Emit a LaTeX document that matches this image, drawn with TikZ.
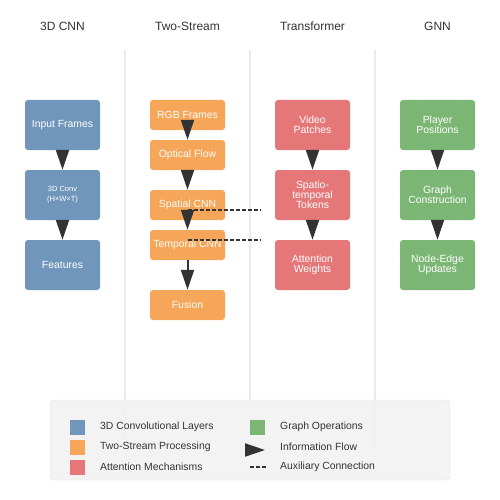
\documentclass[tikz,border=0pt]{standalone}
\usepackage{fontspec}
\setmainfont{Liberation Sans}
\usetikzlibrary{arrows.meta}

\definecolor{cnnblue}{HTML}{7096BB}
\definecolor{tsorange}{HTML}{F5A658}
\definecolor{trred}{HTML}{E67778}
\definecolor{gnngreen}{HTML}{7CB674}
\definecolor{darkgray}{HTML}{333333}
\definecolor{sepgray}{HTML}{EBEBEB}
\definecolor{legendfill}{HTML}{F2F2F2}
\definecolor{legendline}{HTML}{DDDDDD}

\tikzset{
    box/.style={rounded corners=3pt, minimum width=75pt, minimum height=50pt, inner sep=0pt,
        text=white, align=center, font=\fontsize{10.4}{10}\selectfont},
    flatbox/.style={box, minimum height=30pt},
    title/.style={text=darkgray, font=\fontsize{12}{12}\selectfont},
    legendtext/.style={anchor=west, inner sep=0pt, text=darkgray, font=\fontsize{10.4}{10}\selectfont},
    flow/.style={line width=2pt, draw=darkgray, -{Triangle[length=20pt, width=13pt]}},
    aux/.style={line width=1.5pt, draw=darkgray, dash pattern=on 4pt off 2pt},
}

\begin{document}
\begin{tikzpicture}[x=1pt, y=-1pt]
    \useasboundingbox (0,0) rectangle (500,500);

    % Column titles
    \node[title] (tCnn) at (62.5,26) {3D CNN};
    \node[title] (tTs) at (187.5,26) {Two-Stream};
    \node[title] (tTr) at (312.5,26) {Transformer};
    \node[title] (tGnn) at (437.5,26) {GNN};

    % Separators
    \draw[sepgray, line width=1.5pt] (125,50) -- (125,450);
    \draw[sepgray, line width=1.5pt] (250,50) -- (250,450);
    \draw[sepgray, line width=1.5pt] (375,50) -- (375,450);

    % 3D CNN
    \node[box, fill=cnnblue] (cnnIn) at (62.5,125) {Input Frames};
    \node[box, fill=cnnblue, font=\fontsize{7.5}{10}\selectfont] (cnnConv) at (62.5,195) {3D Conv\\(H×W×T)};
    \node[box, fill=cnnblue] (cnnFeat) at (62.5,265) {Features};

    % Two-Stream
    \node[flatbox, fill=tsorange] (tsRgb) at (187.5,115) {RGB Frames};
    \node[flatbox, fill=tsorange] (tsFlow) at (187.5,155) {Optical Flow};
    \node[flatbox, fill=tsorange] (tsSpatial) at (187.5,205) {Spatial CNN};
    \node[flatbox, fill=tsorange] (tsTemporal) at (187.5,245) {Temporal CNN};
    \node[flatbox, fill=tsorange] (tsFusion) at (187.5,305) {Fusion};

    % Transformer
    \node[box, fill=trred] (trPatch) at (312.5,125) {Video\\Patches};
    \node[box, fill=trred] (trTok) at (312.5,195) {Spatio-\\temporal\\Tokens};
    \node[box, fill=trred] (trAttn) at (312.5,265) {Attention\\Weights};

    % GNN
    \node[box, fill=gnngreen] (gnnPos) at (437.5,125) {Player\\Positions};
    \node[box, fill=gnngreen] (gnnGraph) at (437.5,195) {Graph\\Construction};
    \node[box, fill=gnngreen] (gnnUpd) at (437.5,265) {Node-Edge\\Updates};

    % Auxiliary connections
    \coordinate (auxA) at (260,210);
    \coordinate (auxB) at (260,240);
    \draw[aux] ([yshift=-5pt]tsSpatial.center) -- (auxA);
    \draw[aux] ([yshift=5pt]tsTemporal.center) -- (auxB);

    % Information flow
    \draw[flow] (cnnIn) -- (cnnConv);
    \draw[flow] (cnnConv) -- (cnnFeat);
    \draw[flow] ([yshift=-5pt]tsRgb.center) -- (tsFlow.north);
    \draw[flow] (tsFlow) -- (tsSpatial);
    \draw[flow] ([yshift=-5pt]tsSpatial.center) -- (tsTemporal.north);
    \draw[flow] (tsTemporal) -- (tsFusion);
    \draw[flow] (trPatch) -- (trTok);
    \draw[flow] (trTok) -- (trAttn);
    \draw[flow] (gnnPos) -- (gnnGraph);
    \draw[flow] (gnnGraph) -- (gnnUpd);

    % Legend
    \draw[fill=legendfill, fill opacity=0.9, draw=legendline, rounded corners=4pt] (50,400) rectangle (450,480);
    \fill[cnnblue] (70,420) rectangle (85,435);
    \fill[tsorange] (70,440) rectangle (85,455);
    \fill[trred] (70,460) rectangle (85,475);
    \node[legendtext] (lgCnn) at (100,427) {3D Convolutional Layers};
    \node[legendtext] (lgTs) at (100,447) {Two-Stream Processing};
    \node[legendtext] (lgTr) at (100,467) {Attention Mechanisms};
    \fill[gnngreen] (250,420) rectangle (265,435);
    \coordinate (lgFlowA) at (245,450);
    \coordinate (lgFlowB) at (265,450);
    \draw[flow] (lgFlowA) -- (lgFlowB);
    \coordinate (lgAuxA) at (250,467);
    \coordinate (lgAuxB) at (266,467);
    \draw[aux] (lgAuxA) -- (lgAuxB);
    \node[legendtext] (lgGnn) at (280,427) {Graph Operations};
    \node[legendtext] (lgFlow) at (280,447) {Information Flow};
    \node[legendtext] (lgAux) at (280,467) {Auxiliary Connection};

\end{tikzpicture}
\end{document}
